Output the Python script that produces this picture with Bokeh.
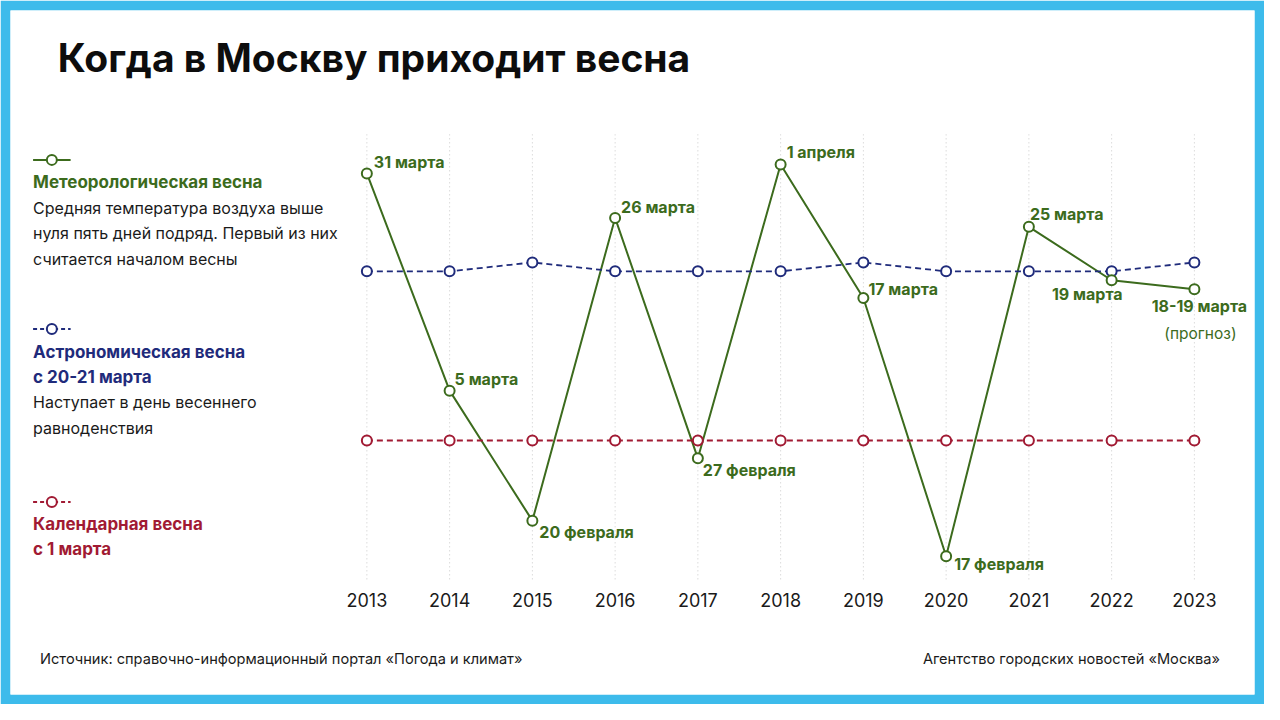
from bokeh.plotting import figure
from bokeh.models import Range1d
from bokeh.core.properties import value
from bokeh.embed import file_html
from bokeh.resources import INLINE

# ---------------- data ----------------
years = [2013, 2014, 2015, 2016, 2017, 2018, 2019, 2020, 2021, 2022, 2023]
year_labels = ["2013", "2014", "2015", "2016", "2017", "2018", "2019", "2020", "2021", "2022", "2023"]
# days counted from 1 March (0 = 1 March, negative = February), as plotted
meteo_days = [30, 5.6, -9, 25, -2, 31, 16, -13, 24, 18, 17]
meteo_labels = ["31 марта", "5 марта", "20 февраля", "26 марта", "27 февраля",
                "1 апреля", "17 марта", "17 февраля", "25 марта", "19 марта", "18-19 марта"]
astro_days = [19, 19, 20, 19, 19, 19, 20, 19, 19, 19, 20]
calendar_days = [0, 0, 0, 0, 0, 0, 0, 0, 0, 0, 0]

# ---------------- styles / layout ----------------
GREEN = "#3c6b1d"
BLUE = "#1f2b7b"
RED = "#a11a33"
FRAME = "#3dbbeb"
DARK = "#1a1a1a"
FONT = "Inter"

W, H = 1264, 704
SX, SY = W / 1280, H / 720          # reference-design -> canvas scale
B = 10                               # coloured frame width
FW, FH = W - 2 * B, H - 2 * B

REF_X2013, REF_PX_YEAR = 371, 83.8
REF_Y_DAY0, REF_PX_DAY = 450, 9.106

X0 = 2013 - (REF_X2013 * SX - B) / (REF_PX_YEAR * SX)
X1 = X0 + FW / (REF_PX_YEAR * SX)
Y1 = (REF_Y_DAY0 * SY - B) / (REF_PX_DAY * SY)
Y0 = Y1 - FH / (REF_PX_DAY * SY)


def dx(rx):
    return X0 + (rx * SX - B) / FW * (X1 - X0)


def dy(ry):
    return Y1 - (ry * SY - B) / FH * (Y1 - Y0)


p = figure(width=W, height=H, output_backend="svg", toolbar_location=None,
           x_axis_location=None, y_axis_location=None,
           x_range=Range1d(X0, X1), y_range=Range1d(Y0, Y1))
p.min_border_left = p.min_border_right = p.min_border_top = p.min_border_bottom = B
p.border_fill_color = FRAME
p.background_fill_color = "white"
p.outline_line_color = None
p.xgrid.visible = False
p.ygrid.visible = False

# vertical dotted guides
p.segment(x0=years, x1=years, y0=[dy(592)] * len(years), y1=[dy(137)] * len(years),
          line_color="#c9c9c9", line_width=1, line_dash="1 3")

# lines
p.line(years, meteo_days, line_color=GREEN, line_width=2)
p.line(years, calendar_days, line_color=RED, line_width=1.8, line_dash="6 4")
p.line(years, astro_days, line_color=BLUE, line_width=1.8, line_dash="6 4")

for vals, col in ((calendar_days, RED), (astro_days, BLUE), (meteo_days, GREEN)):
    p.scatter(years, vals, marker="circle", size=10, fill_color="white",
              line_color=col, line_width=2)

# point labels
x_off = [7, 5, 7, 6, 5, 6, 5, 8, 1, 11, 5]
y_off = [-11, -12, 11, -11, 12, -12, -9, 8, -13, 14, 17]
align = ["left"] * 9 + ["right", "center"]
p.text(x=years, y=meteo_days, text=meteo_labels, x_offset=x_off, y_offset=y_off,
       text_align=align, text_baseline="middle", text_color=GREEN,
       text_font=value(FONT), text_font_size="16px", text_font_style="bold")
p.text(x=[years[-1]], y=[meteo_days[-1]], text=["(прогноз)"], x_offset=[6], y_offset=[44],
       text_align="center", text_baseline="middle", text_color=GREEN,
       text_font=value(FONT), text_font_size="15.5px")

# year labels
p.text(x=years, y=[dy(613)] * len(years), text=year_labels, text_align="center",
       text_baseline="middle", text_color=DARK, text_font=value(FONT), text_font_size="18px")

# title
p.text(x=[dx(58)], y=[dy(58)], text=["Когда в Москву приходит весна"], text_align="left",
       text_baseline="middle", text_color="#0d0d0d", text_font=value(FONT),
       text_font_size="39px", text_font_style="bold")

# legend symbols
for ly, col, dash in ((163, GREEN, "solid"), (336, BLUE, "4 3"), (513, RED, "4 3")):
    p.line([dx(33), dx(71)], [dy(ly)] * 2, line_color=col, line_width=2, line_dash=dash)
    p.scatter([dx(52)], [dy(ly)], marker="circle", size=10, fill_color="white",
              line_color=col, line_width=2)

# legend texts
bold_lines = [("Метеорологическая весна", 186, GREEN),
              ("Астрономическая весна", 359, BLUE),
              ("с 20-21 марта", 385, BLUE),
              ("Календарная весна", 535, RED),
              ("с 1 марта", 561, RED)]
for t, y, c in bold_lines:
    p.text(x=[dx(33)], y=[dy(y)], text=[t], text_align="left", text_baseline="middle",
           text_color=c, text_font=value(FONT), text_font_size="17px", text_font_style="bold")

plain_lines = [("Средняя температура воздуха выше", 212),
               ("нуля пять дней подряд. Первый из них", 238),
               ("считается началом весны", 264),
               ("Наступает в день весеннего", 411),
               ("равноденствия", 437)]
for t, y in plain_lines:
    p.text(x=[dx(33)], y=[dy(y)], text=[t], text_align="left", text_baseline="middle",
           text_color=DARK, text_font=value(FONT), text_font_size="16px")

# footer
p.text(x=[dx(40)], y=[dy(673)], text=["Источник: справочно-информационный портал «Погода и климат»"],
       text_align="left", text_baseline="middle", text_color=DARK,
       text_font=value(FONT), text_font_size="14.6px")
p.text(x=[dx(1235)], y=[dy(673)], text=["Агентство городских новостей «Москва»"],
       text_align="right", text_baseline="middle", text_color=DARK,
       text_font=value(FONT), text_font_size="14.6px")

open("out.html", "w").write(file_html(p, INLINE))
